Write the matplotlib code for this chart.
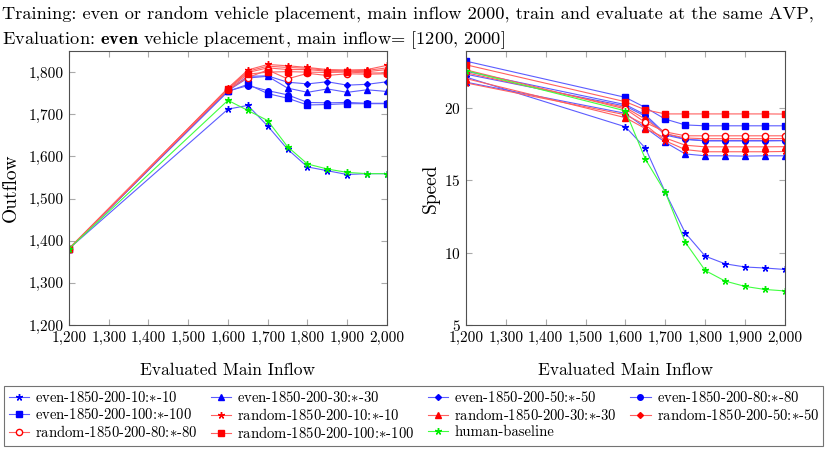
import numpy as np
import matplotlib
matplotlib.use('Agg')
import matplotlib.pyplot as plt
from matplotlib.ticker import FuncFormatter, MultipleLocator

plt.rcParams['font.family'] = 'cmr10'
plt.rcParams['mathtext.fontset'] = 'cm'
plt.rcParams['axes.formatter.use_mathtext'] = True

# ==============================
# data
# ==============================
inflow = [1200, 1600, 1650, 1700, 1750, 1800, 1850, 1900, 1950, 2000]

labels = ['even-1850-200-10:$*$-10', 'even-1850-200-30:$*$-30',
          'even-1850-200-50:$*$-50', 'even-1850-200-80:$*$-80',
          'even-1850-200-100:$*$-100', 'random-1850-200-10:$*$-10',
          'random-1850-200-30:$*$-30', 'random-1850-200-50:$*$-50',
          'random-1850-200-80:$*$-80', 'random-1850-200-100:$*$-100',
          'human-baseline']

outflow_even10 = [1381, 1712, 1721, 1672, 1617, 1575, 1566, 1557, 1559, 1559]
outflow_even30 = [1381, 1756, 1786, 1790, 1762, 1752, 1760, 1752, 1758, 1754]
outflow_even50 = [1381, 1757, 1790, 1791, 1776, 1772, 1777, 1769, 1771, 1777]
outflow_even80 = [1381, 1755, 1768, 1756, 1746, 1728, 1727, 1728, 1726, 1726]
outflow_even100 = [1381, 1754, 1771, 1749, 1738, 1722, 1723, 1725, 1725, 1725]
outflow_rand10 = [1381, 1762, 1805, 1818, 1815, 1811, 1806, 1805, 1806, 1816]
outflow_rand30 = [1381, 1760, 1802, 1814, 1811, 1809, 1804, 1803, 1804, 1810]
outflow_rand50 = [1381, 1761, 1799, 1810, 1806, 1806, 1802, 1802, 1801, 1806]
outflow_rand80 = [1381, 1758, 1787, 1805, 1784, 1797, 1792, 1796, 1795, 1796]
outflow_rand100 = [1381, 1759, 1795, 1800, 1801, 1800, 1799, 1800, 1798, 1798]
outflow_human = [1381, 1733, 1709, 1685, 1623, 1582, 1570, 1562, 1559, 1559]

speed_even10 = [22.1, 18.67, 17.2, 14.15, 11.35, 9.75, 9.22, 9.0, 8.93, 8.83]
speed_even30 = [21.75, 19.6, 18.6, 17.6, 16.8, 16.67, 16.67, 16.65, 16.67, 16.67]
speed_even50 = [22.3, 20.1, 19.4, 18.1, 17.8, 17.7, 17.7, 17.7, 17.7, 17.72]
speed_even80 = [22.5, 20.2, 19.5, 18.2, 17.82, 17.72, 17.72, 17.72, 17.72, 17.72]
speed_even100 = [23.2, 20.7, 20.0, 19.2, 18.8, 18.74, 18.74, 18.74, 18.74, 18.74]
speed_rand10 = [21.7, 19.5, 18.8, 17.7, 17.1, 16.95, 16.95, 16.95, 16.95, 16.97]
speed_rand30 = [22.0, 19.3, 18.55, 17.9, 17.4, 17.29, 17.29, 17.29, 17.29, 17.3]
speed_rand50 = [22.4, 20.0, 19.2, 18.2, 17.9, 17.85, 17.85, 17.85, 17.85, 17.86]
speed_rand80 = [22.6, 19.9, 18.97, 18.32, 18.05, 18.05, 18.05, 18.05, 18.05, 18.05]
speed_rand100 = [22.95, 20.4, 19.84, 19.56, 19.56, 19.56, 19.56, 19.56, 19.56, 19.55]
speed_human = [22.55, 19.77, 16.44, 14.15, 10.71, 8.76, 8.03, 7.66, 7.45, 7.35]

outflows = [outflow_even10, outflow_even30, outflow_even50, outflow_even80,
            outflow_even100, outflow_rand10, outflow_rand30, outflow_rand50,
            outflow_rand80, outflow_rand100, outflow_human]
speeds = [speed_even10, speed_even30, speed_even50, speed_even80,
          speed_even100, speed_rand10, speed_rand30, speed_rand50,
          speed_rand80, speed_rand100, speed_human]

# ==============================
# styles
# ==============================
blue, red, green = '#0000ff', '#ff0000', '#00ee00'
blue_l, red_l, green_l = '#5c5cff', '#ff6060', '#40ff40'
star = (5, 2, 0)
styles = [
    dict(color=blue_l, mfc=blue, mec=blue, marker=star, ms=5),
    dict(color=blue_l, mfc=blue, mec=blue, marker='^', ms=4),
    dict(color=blue_l, mfc=blue, mec=blue, marker='D', ms=3),
    dict(color=blue_l, mfc=blue, mec=blue, marker='o', ms=4),
    dict(color=blue_l, mfc=blue, mec=blue, marker='s', ms=5),
    dict(color=red_l, mfc=red, mec=red, marker=star, ms=5),
    dict(color=red_l, mfc=red, mec=red, marker='^', ms=4),
    dict(color=red_l, mfc=red, mec=red, marker='D', ms=3),
    dict(color=red_l, mfc='white', mec=red, marker='o', ms=4.5, mew=1.0),
    dict(color=red_l, mfc=red, mec=red, marker='s', ms=5),
    dict(color=green_l, mfc=green, mec=green, marker=star, ms=5),
]

fig = plt.figure(figsize=(8.3, 4.49), dpi=100)
ax1 = fig.add_axes([0.0831, 0.2762, 0.3831, 0.6102])
ax2 = fig.add_axes([0.5614, 0.2762, 0.3843, 0.6102])

handles = []
for i in range(len(labels)):
    h, = ax1.plot(inflow, outflows[i], lw=0.8, label=labels[i], **styles[i])
    ax2.plot(inflow, speeds[i], lw=0.8, **styles[i])
    handles.append(h)

comma = FuncFormatter(lambda v, p: f'{v:,.0f}')

for ax in (ax1, ax2):
    ax.set_xlim(1200, 2000)
    ax.xaxis.set_major_locator(MultipleLocator(100))
    ax.xaxis.set_major_formatter(comma)
    ax.tick_params(direction='in', top=True, right=True, length=4,
                   color='#aaaaaa', labelsize=11, pad=4)
    for s in ax.spines.values():
        s.set_color('#505050')
        s.set_linewidth(0.8)
    ax.set_xlabel('Evaluated Main Inflow', fontsize=12.5, labelpad=13)

ax1.set_ylim(1200, 1850)
ax1.yaxis.set_major_locator(MultipleLocator(100))
ax1.yaxis.set_major_formatter(comma)
ax1.set_ylabel('Outflow', fontsize=14, labelpad=6)

ax2.set_ylim(5, 23.9)
ax2.yaxis.set_major_locator(MultipleLocator(5))
ax2.set_ylabel('Speed', fontsize=14, labelpad=3)

fig.text(0.003, 0.985, 'Training: even or random vehicle placement, main inflow 2000, train and evaluate at the same AVP,',
         fontsize=13.2, va='top', ha='left')
fig.text(0.003, 0.935, r'Evaluation: $\mathbf{even}$ vehicle placement, main inflow= [1200, 2000]',
         fontsize=13.2, va='top', ha='left')

# legend filled row by row like the original (matplotlib fills by column)
order = [0, 4, 8, 1, 5, 9, 2, 6, 10, 3, 7]
leg = fig.legend(handles=[handles[k] for k in order], ncol=4, loc='lower left',
                 bbox_to_anchor=(0.005, 0.007, 0.987, 0.127), mode='expand',
                 borderaxespad=0, fontsize=10.6, frameon=True, fancybox=False,
                 edgecolor='#505050', handlelength=1.4, handletextpad=0.4,
                 columnspacing=0.3, labelspacing=0.15, borderpad=0.3)
leg.get_frame().set_linewidth(0.8)

fig.savefig('out.png', dpi=100)
